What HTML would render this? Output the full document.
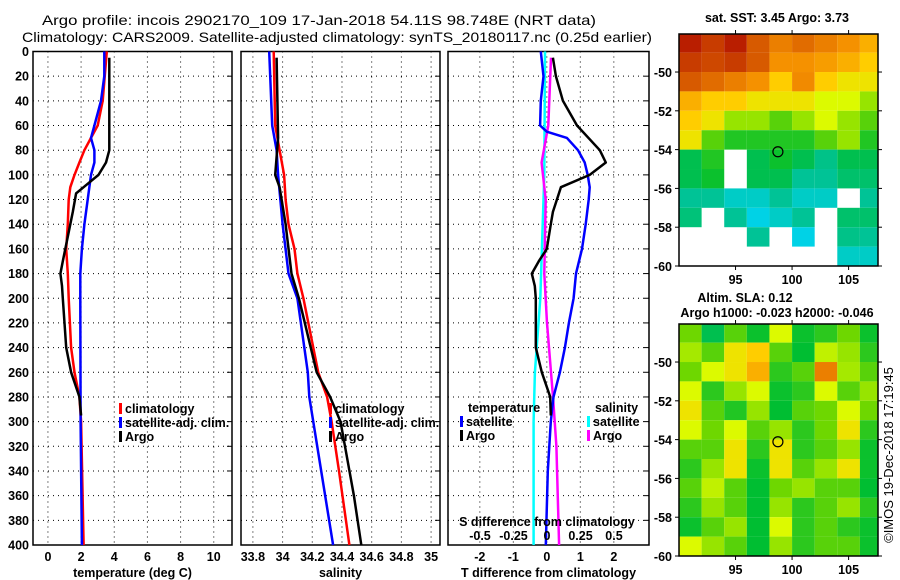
<!DOCTYPE html>
<html><head><meta charset="utf-8"><style>
html,body{margin:0;padding:0;background:#fff;}
svg{display:block;font-family:"Liberation Sans",sans-serif;}
.t{font-weight:bold;font-size:12.5px;fill:#000;}
</style></head><body>
<svg id="fig" width="900" height="580" viewBox="0 0 900 580" xmlns="http://www.w3.org/2000/svg">
<text x="42" y="25" font-size="14" textLength="554" lengthAdjust="spacingAndGlyphs">Argo profile: incois 2902170_109 17-Jan-2018 54.11S 98.748E (NRT data)</text>
<text x="22" y="42" font-size="14" textLength="630" lengthAdjust="spacingAndGlyphs">Climatology: CARS2009. Satellite-adjusted climatology: synTS_20180117.nc (0.25d earlier)</text>
<g id="g"></g>
</svg>
<script>
// ---- data ----
const depthTicks = [0,20,40,60,80,100,120,140,160,180,200,220,240,260,280,300,320,340,360,380,400];
const tempTicks = [0,2,4,6,8,10];
const salTicks = [33.8,34,34.2,34.4,34.6,34.8,35];
const tdiffTicks = [-2,-1,0,1,2];
const sdiffTicks = [-0.5,-0.25,0,0.25,0.5];

const climTDepth = [0,40,60,70,80,90,100,110,120,140,160,180,200,240,260,280,300,400];
const climT      = [3.55,3.3,3.0,2.6,2.2,1.9,1.6,1.35,1.25,1.2,1.1,1.2,1.25,1.4,1.6,1.9,2.0,2.15];
const satTDepth  = [0,20,40,50,60,70,80,90,100,120,140,160,180,200,300,400];
const satT       = [3.4,3.4,3.2,3.0,2.8,2.6,2.8,2.8,2.6,2.4,2.2,2.05,1.95,1.95,1.97,2.05];
const argoTDepth = [5,80,90,100,110,115,130,150,170,180,190,200,220,240,260,280,295];
const argoT      = [3.7,3.7,3.5,3.05,2.15,1.7,1.5,1.2,0.9,0.75,0.85,0.9,1.0,1.1,1.4,1.9,2.0];

const climSDepth = [0,60,80,100,120,140,160,180,200,260,280,300,340,400];
const climS      = [33.94,33.95,33.98,34.01,34.02,34.04,34.08,34.1,34.14,34.24,34.3,34.33,34.38,34.45];
const satSDepth  = [0,60,80,100,140,180,200,260,280,340,400];
const satS       = [33.91,33.93,33.96,33.97,34.0,34.04,34.1,34.17,34.18,34.26,34.34];
const argoSDepth = [5,70,100,110,140,180,200,260,280,300,320,360,400];
const argoS      = [33.96,33.97,33.95,33.98,34.02,34.06,34.11,34.23,34.32,34.39,34.42,34.48,34.53];

const dSatTDepth = [0,20,40,60,65,70,80,90,100,110,120,140,160,180,200,220,240,260,280,300,340,400];
const dSatT      = [-0.18,-0.1,-0.18,-0.2,0,0.6,0.93,1.13,1.22,1.28,1.25,1.16,1.05,0.87,0.8,0.66,0.54,0.39,0.2,0.12,0.03,-0.03];
const dArgoTDepth= [5,20,40,60,80,90,100,110,120,130,140,160,170,180,190,200,240,260,280,295];
const dArgoT     = [0.18,0.27,0.48,0.9,1.58,1.76,1.28,0.42,0.3,0.18,0.12,0,-0.24,-0.45,-0.36,-0.33,-0.33,-0.15,0.1,0.12];
const dSatSDepth = [0,100,200,260,300,400];
const dSatS      = [-0.015,-0.02,-0.05,-0.09,-0.1,-0.1];
const dArgoSDepth= [5,60,90,120,180,220,280,320,400];
const dArgoS     = [0.03,0.01,-0.04,-0.01,-0.02,0,0.045,0.07,0.09];

const mapLonTicks = [95,100,105];
const mapLatTicks = [-50,-52,-54,-56,-58,-60];
// SST map grid: 12 rows (lat -48..-60 by 1), 9 cols (lon 90..108 by 2); normalised colour value, null = no data
const sstGrid = [
 [0.95,0.9,0.95,0.85,0.75,0.8,0.75,0.7,0.65],
 [0.9,0.88,0.9,0.85,0.7,0.7,0.68,0.65,0.6],
 [0.85,0.8,0.75,0.7,0.6,0.72,0.6,0.55,0.55],
 [0.65,0.6,0.6,0.55,0.55,0.55,0.5,0.5,0.45],
 [0.6,0.55,0.45,0.45,0.4,0.45,0.5,0.45,0.4],
 [0.55,0.4,0.35,0.35,0.35,0.35,0.4,0.45,0.35],
 [0.3,0.35,null,0.3,0.33,0.3,0.26,0.3,0.3],
 [0.3,0.33,null,0.3,0.3,0.25,0.25,0.28,0.28],
 [0.25,0.25,0.22,0.22,0.25,0.22,0.22,null,0.25],
 [0.27,null,0.25,0.2,0.22,0.25,null,0.28,0.28],
 [null,null,null,0.25,null,0.2,null,0.26,0.25],
 [null,null,null,null,null,null,null,0.22,0.22]
];
const slaGrid = [
 [0.42,0.3,0.4,0.33,0.5,0.33,0.36,0.42,0.33],
 [0.46,0.4,0.55,0.6,0.4,0.32,0.48,0.45,0.36],
 [0.42,0.5,0.55,0.65,0.36,0.4,0.75,0.46,0.4],
 [0.5,0.36,0.45,0.5,0.33,0.36,0.5,0.4,0.45],
 [0.55,0.4,0.35,0.45,0.32,0.4,0.42,0.5,0.42],
 [0.5,0.42,0.5,0.4,0.45,0.36,0.42,0.55,0.36],
 [0.4,0.4,0.55,0.36,0.55,0.36,0.4,0.45,0.33],
 [0.36,0.45,0.55,0.33,0.55,0.4,0.45,0.55,0.33],
 [0.4,0.48,0.4,0.32,0.42,0.45,0.4,0.4,0.32],
 [0.36,0.45,0.4,0.32,0.45,0.36,0.4,0.45,0.36],
 [0.33,0.4,0.45,0.32,0.5,0.36,0.4,0.36,0.33],
 [0.5,0.45,0.4,0.32,0.45,0.36,0.4,0.4,0.33]
];
const floatLon = 98.748, floatLat = -54.11;

// ---- drawing ----
const NS='http://www.w3.org/2000/svg';
const G=document.getElementById('g');
function el(tag,attrs,parent){const e=document.createElementNS(NS,tag);for(const k in attrs)e.setAttribute(k,attrs[k]);(parent||G).appendChild(e);return e;}
function txt(x,y,s,anchor,cls,parent){const e=el('text',{x:x,y:y,'text-anchor':anchor||'middle',class:cls||'t'},parent);e.textContent=s;return e;}

const Y0=51.5, Y1=545;
const yD=d=>Y0+(Y1-Y0)*d/400;
const panels=[
 {name:'temperature',x0:33,x1:232,dmin:-0.9,dmax:11.1,ticks:tempTicks,label:'temperature (deg C)'},
 {name:'salinity',x0:241,x1:440,dmin:33.72,dmax:35.06,ticks:salTicks,label:'salinity'},
 {name:'difference',x0:448,x1:649,dmin:-2.95,dmax:3.05,ticks:tdiffTicks,label:'T difference from climatology'}
];
panels.forEach(p=>{p.sx=v=>p.x0+(v-p.dmin)/(p.dmax-p.dmin)*(p.x1-p.x0);});
const sdx=v=>547+134*v;

panels.forEach((p,pi)=>{
  const g=el('g',{});
  
  
  depthTicks.forEach(d=>{
    if(d>0&&d<400){const l=el('line',{x1:p.x0,x2:p.x1,y1:yD(d),y2:yD(d),stroke:'#000','stroke-width':1,'stroke-dasharray':'1,4'},g);
      }
    el('line',{x1:p.x1-5,x2:p.x1,y1:yD(d),y2:yD(d),stroke:'#000'},g);
  });
  p.ticks.forEach(v=>{
    const x=p.sx(v);
    const l=el('line',{x1:x,x2:x,y1:Y0,y2:Y1,stroke:'#000','stroke-width':1,'stroke-dasharray':'1,4'},g);
    
    const t=txt(x,561,String(v),'middle','t',g);
    
  });
  const r=el('rect',{x:p.x0,y:Y0,width:p.x1-p.x0,height:Y1-Y0,fill:'none',stroke:'#000','stroke-width':1.5},g);
  
  const lab=txt((p.x0+p.x1)/2,577,p.label,'middle','t',g);
  
});
depthTicks.forEach(d=>{const t=txt(29,yD(d)+4.5,String(d),'end');
  });

function line(depths,vals,sx,color,name){
  const pts=depths.map((d,i)=>sx(vals[i]).toFixed(1)+','+yD(d).toFixed(1)).join(' ');
  const l=el('polyline',{points:pts,fill:'none',stroke:color,'stroke-width':2.5,'stroke-linejoin':'round'});
  
  
}
const P=panels;
line(climTDepth,climT,P[0].sx,'#f00','temp-climatology-line');
line(satTDepth,satT,P[0].sx,'#00f','temp-satellite-line');
line(argoTDepth,argoT,P[0].sx,'#000','temp-argo-line');
line(climSDepth,climS,P[1].sx,'#f00','sal-climatology-line');
line(satSDepth,satS,P[1].sx,'#00f','sal-satellite-line');
line(argoSDepth,argoS,P[1].sx,'#000','sal-argo-line');
line(dSatSDepth,dSatS,sdx,'#0ff','sdiff-satellite-line');
line(dArgoSDepth,dArgoS,sdx,'#f0f','sdiff-argo-line');
line(dSatTDepth,dSatT,P[2].sx,'#00f','tdiff-satellite-line');
line(dArgoTDepth,dArgoT,P[2].sx,'#000','tdiff-argo-line');

function legend(x,y,color,label,name){
  const g=el('g',{});
  
  
  el('rect',{x:x,y:y-10,width:3,height:11,fill:color},g);
  txt(x+6,y,label,'start','t',g);
}
legend(119,413,'#f00','climatology','legend-climatology');
legend(119,427,'#00f','satellite-adj. clim.','legend-satellite-adj');
legend(119,441,'#000','Argo','legend-argo');
legend(329,413,'#f00','climatology','legend-sal-climatology');
legend(329,427,'#00f','satellite-adj. clim.','legend-sal-satellite-adj');
legend(329,441,'#000','Argo','legend-sal-argo');
let t=txt(468,412,'temperature','start');
t=txt(595,412,'salinity','start');
legend(460,426,'#00f','satellite','legend-tdiff-satellite');
legend(460,440,'#000','Argo','legend-tdiff-argo');
legend(587,426,'#0ff','satellite','legend-sdiff-satellite');
legend(587,440,'#f0f','Argo','legend-sdiff-argo');
t=txt(547,526,'S difference from climatology');
sdiffTicks.forEach(v=>{const s=txt(sdx(v),540,String(v));
  });

// colormaps
const stops=[[0.15,[0,70,255]],[0.2,[0,210,230]],[0.25,[0,195,150]],[0.32,[0,190,50]],[0.42,[110,215,0]],[0.5,[220,250,0]],[0.6,[255,205,0]],[0.7,[245,145,0]],[0.85,[215,90,0]],[1,[170,0,0]]];
function cmap(v){for(let i=1;i<stops.length;i++){if(v<=stops[i][0]){const a=stops[i-1],b=stops[i];const f=Math.max(0,(v-a[0])/(b[0]-a[0]));
  return 'rgb('+a[1].map((c,k)=>Math.round(c+(b[1][k]-c)*f)).join(',')+')';}}return 'rgb(170,0,0)';}

function map(top,grid,name){
  const X0=679,X1=878,Y=top,H=232;
  const lonx=lo=>X0+(lo-90)*(X1-X0)/17.6;
  const laty=la=>Y+(-48.04-la)*H/11.96;
  const g=el('g',{});
  
  
  grid.forEach((row,r)=>row.forEach((v,c)=>{
    if(v===null)return;
    const x=lonx(90+2*c),y=laty(-48-r);
    const w=Math.min(lonx(92+2*c),X1)-x,h=Math.min(laty(-49-r),Y+H)-Math.max(y,Y);
    const cell=el('rect',{x:x,y:Math.max(y,Y),width:w,height:h,fill:cmap(v)},g);
    
    
  }));
  el('rect',{x:X0,y:Y,width:X1-X0,height:H,fill:'none',stroke:'#000','stroke-width':1.5},g);
  mapLatTicks.forEach(la=>{const y=laty(la);el('line',{x1:X0-4,x2:X0,y1:y,y2:y,stroke:'#000'},g);el('line',{x1:X1,x2:X1+4,y1:y,y2:y,stroke:'#000'},g);
    const s=txt(672,y+5,String(la),'end','t',g);});
  mapLonTicks.forEach(lo=>{const x=lonx(lo);el('line',{x1:x,x2:x,y1:Y+H,y2:Y+H+4,stroke:'#000'},g);el('line',{x1:x,x2:x,y1:Y-4,y2:Y,stroke:'#000'},g);
    const s=txt(x,Y+H+18,String(lo),'middle','t',g);});
  const m=el('circle',{cx:lonx(floatLon),cy:laty(floatLat),r:5,fill:'none',stroke:'#000','stroke-width':1.2},g);
  
  
}
map(34,sstGrid,'sst-map');
map(324,slaGrid,'sla-map');
t=txt(777,22,'sat. SST: 3.45 Argo: 3.73');
t=txt(745,302,'Altim. SLA: 0.12');
t=txt(777,317,'Argo h1000: -0.023 h2000: -0.046');
t=txt(0,0,'©IMOS 19-Dec-2018 17:19:45','middle','');t.setAttribute('transform','translate(893,455) rotate(-90)');t.setAttribute('style','font-size:13px;font-weight:normal');

</script>
</body></html>
